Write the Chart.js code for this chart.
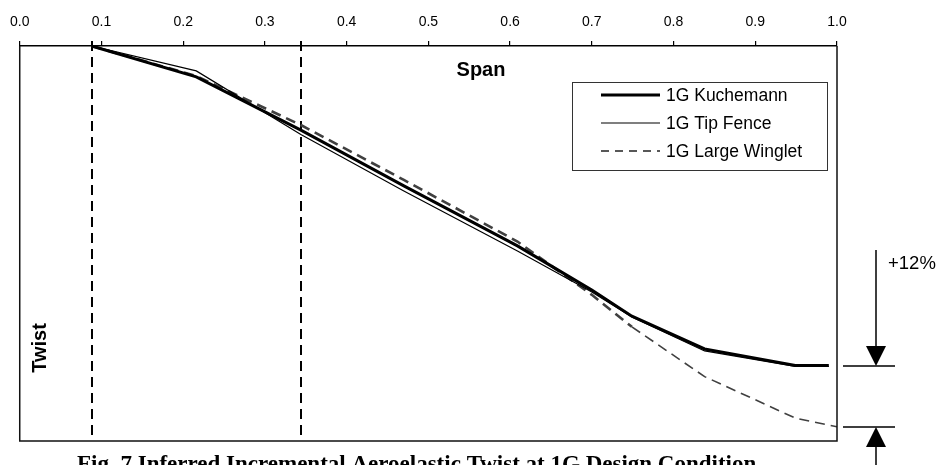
<!DOCTYPE html>
<html>
<head>
<meta charset="utf-8">
<script src="https://cdn.jsdelivr.net/npm/chart.js@4/dist/chart.umd.min.js"></script>
<style>
    html, body { margin: 0; padding: 0; background: #fff; }
    #wrap { width: 939px; height: 465px; }
</style>
</head>
<body>
<div id="wrap"><canvas id="chart" width="939" height="465"></canvas></div>
<script>
// span stations (fraction of semi-span) and inferred twist (arbitrary units, 0 at root station)
const spanStations = [0.088, 0.216, 0.344, 0.47, 0.609, 0.7, 0.749, 0.838, 0.949, 0.99];
const wingletStations = [0.088, 0.216, 0.344, 0.47, 0.609, 0.7, 0.749, 0.838, 0.949, 1.0];

const kuchemannTwist = [0, -0.078, -0.213, -0.354, -0.506, -0.618, -0.684, -0.767, -0.809, -0.809];
const tipFenceTwist = [0, -0.063, -0.224, -0.367, -0.519, -0.623, -0.686, -0.772, -0.811, -0.811];
const wingletTwist = [0, -0.076, -0.2, -0.339, -0.495, -0.63, -0.711, -0.837, -0.942, -0.964];

const seriesLabels = ['1G Kuchemann', '1G Tip Fence', '1G Large Winglet'];
const xTicks = [0, 0.1, 0.2, 0.3, 0.4, 0.5, 0.6, 0.7, 0.8, 0.9, 1.0];
const markerSpans = [0.0885, 0.344];

const axisTitle = 'Span';
const valueTitle = 'Twist';
const deltaLabel = '+12%';
const caption = 'Fig. 7 Inferred Incremental Aeroelastic Twist at 1G Design Condition';

function toPoints(xs, ys) {
    return xs.map((x, i) => ({ x, y: ys[i] }));
}

function drawArrowHead(ctx, x, tipY, dir) {
    // dir = 1 points down, -1 points up
    ctx.beginPath();
    ctx.moveTo(x, tipY);
    ctx.lineTo(x - 10, tipY - dir * 20);
    ctx.lineTo(x + 10, tipY - dir * 20);
    ctx.closePath();
    ctx.fill();
}

const decorations = {
    id: 'decorations',
    beforeDatasetsDraw(chart) {
        const { ctx, chartArea, scales } = chart;

        ctx.save();
        ctx.strokeStyle = '#000';
        ctx.lineWidth = 2;
        ctx.setLineDash([10, 6]);
        markerSpans.forEach((s) => {
            const x = Math.round(scales.x.getPixelForValue(s));
            ctx.beginPath();
            ctx.moveTo(x, chartArea.top - 5);
            ctx.lineTo(x, chartArea.bottom);
            ctx.stroke();
        });
        ctx.restore();
    },
    afterDraw(chart) {
        const { ctx, chartArea, scales } = chart;
        const { left, right, top, bottom } = chartArea;

        ctx.save();

        // frame
        ctx.strokeStyle = '#111';
        ctx.lineWidth = 1.5;
        ctx.beginPath();
        ctx.moveTo(left, top);
        ctx.lineTo(left, bottom);
        ctx.lineTo(right, bottom);
        ctx.lineTo(right, top);
        ctx.stroke();

        // titles
        ctx.fillStyle = '#000';
        ctx.font = 'bold 20px "Liberation Sans", Arial, sans-serif';
        ctx.textAlign = 'center';
        ctx.textBaseline = 'middle';
        ctx.fillText(axisTitle, 481, 70);

        ctx.save();
        ctx.translate(40, 348);
        ctx.rotate(-Math.PI / 2);
        ctx.fillText(valueTitle, 0, 0);
        ctx.restore();

        // legend
        const box = { x: 572, y: 82, w: 255, h: 88 };
        ctx.strokeStyle = '#333';
        ctx.lineWidth = 1;
        ctx.strokeRect(box.x + 0.5, box.y + 0.5, box.w, box.h);
        ctx.font = '17.5px "Liberation Sans", Arial, sans-serif';
        ctx.textAlign = 'left';
        chart.data.datasets.forEach((ds, i) => {
            const y = 95 + i * 28;
            ctx.save();
            ctx.strokeStyle = ds.legendColor;
            ctx.lineWidth = ds.legendWidth;
            ctx.setLineDash(ds.legendDash);
            ctx.beginPath();
            ctx.moveTo(601, y);
            ctx.lineTo(660, y);
            ctx.stroke();
            ctx.restore();
            ctx.fillStyle = '#000';
            ctx.fillText(ds.label, 666, y + 1);
        });

        // +12% annotation, levels taken from the tip values
        const yA = Math.round(scales.y.getPixelForValue(kuchemannTwist[kuchemannTwist.length - 1]));
        const yB = Math.round(scales.y.getPixelForValue(wingletTwist[wingletTwist.length - 1]));
        const ax = 876;
        ctx.strokeStyle = '#000';
        ctx.fillStyle = '#000';
        ctx.lineWidth = 1.5;
        ctx.beginPath();
        ctx.moveTo(843, yA);
        ctx.lineTo(895, yA);
        ctx.moveTo(843, yB);
        ctx.lineTo(895, yB);
        ctx.moveTo(ax, 250);
        ctx.lineTo(ax, yA - 10);
        ctx.moveTo(ax, yB + 10);
        ctx.lineTo(ax, 470);
        ctx.stroke();
        drawArrowHead(ctx, ax, yA, 1);
        drawArrowHead(ctx, ax, yB, -1);

        ctx.font = '18.5px "Liberation Sans", Arial, sans-serif';
        ctx.textAlign = 'left';
        ctx.textBaseline = 'middle';
        ctx.fillText(deltaLabel, 888, 264);

        // caption, cut by the bottom of the picture
        ctx.font = 'bold 23px "Liberation Serif", "Times New Roman", serif';
        ctx.textBaseline = 'alphabetic';
        ctx.fillText(caption, 77, 471);

        ctx.restore();
    },
};

new Chart(document.getElementById('chart'), {
    type: 'scatter',
    data: {
        datasets: [
            {
                label: seriesLabels[0],
                data: toPoints(spanStations, kuchemannTwist),
                showLine: true,
                borderColor: '#000',
                borderWidth: 3,
                pointRadius: 0,
                legendColor: '#000',
                legendWidth: 3,
                legendDash: [],
            },
            {
                label: seriesLabels[1],
                data: toPoints(spanStations, tipFenceTwist),
                showLine: true,
                borderColor: '#000',
                borderWidth: 1.2,
                pointRadius: 0,
                legendColor: '#000',
                legendWidth: 1.2,
                legendDash: [],
            },
            {
                label: seriesLabels[2],
                data: toPoints(wingletStations, wingletTwist),
                showLine: true,
                borderColor: '#404040',
                borderWidth: 2.6,
                borderDash: [10, 6],
                pointRadius: 0,
                legendColor: '#222',
                legendWidth: 1.3,
                legendDash: [8, 6],
                segment: {
                    borderWidth: (c) => (c.p0.parsed.x >= 0.74 ? 1.6 : 2.6),
                },
            },
        ],
    },
    options: {
        responsive: false,
        animation: false,
        layout: {
            padding: { left: 19, right: 102, top: 10, bottom: 24 },
        },
        plugins: {
            legend: { display: false },
            tooltip: { enabled: false },
        },
        scales: {
            x: {
                type: 'linear',
                position: 'top',
                min: 0,
                max: 1,
                afterBuildTicks(scale) {
                    scale.ticks = xTicks.map((value) => ({ value }));
                },
                afterFit(scale) {
                    scale.height = 36;
                },
                grid: {
                    drawOnChartArea: false,
                    drawTicks: true,
                    tickLength: 5,
                    color: '#000',
                    lineWidth: 1.2,
                },
                border: { display: true, color: '#000', width: 1.5 },
                ticks: {
                    color: '#000',
                    padding: 10,
                    maxRotation: 0,
                    font: { family: '"Liberation Sans", Arial, sans-serif', size: 14 },
                    callback: (v) => Number(v).toFixed(1),
                },
            },
            y: {
                type: 'linear',
                display: false,
                min: -1,
                max: 0,
            },
        },
    },
    plugins: [decorations],
});
</script>
</body>
</html>
